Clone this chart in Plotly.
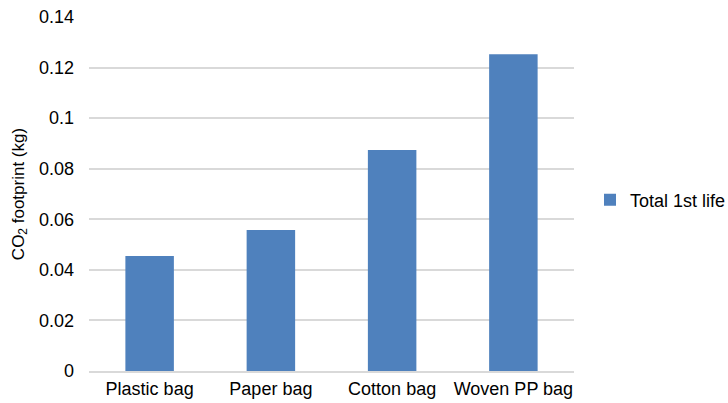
import plotly.graph_objects as go

categories = ["Plastic bag", "Paper bag", "Cotton bag", "Woven PP bag"]
values = [0.0455, 0.0558, 0.0874, 0.1253]
series_name = "Total 1st life"
y_ticks = [0, 0.02, 0.04, 0.06, 0.08, 0.1, 0.12, 0.14]
y_tick_labels = ["0", "0.02", "0.04", "0.06", "0.08", "0.1", "0.12", "0.14"]

FONT = "Liberation Sans, Arial, sans-serif"

fig = go.Figure()
fig.add_trace(go.Bar(
    x=categories, y=values, name=series_name,
    marker=dict(color="#4f81bd", line=dict(width=0)),
    showlegend=True,
))

fig.update_layout(
    width=728, height=403,
    margin=dict(l=89, r=154, t=17, b=32, autoexpand=False),
    paper_bgcolor="white", plot_bgcolor="white",
    font=dict(family=FONT, size=18, color="#000000"),
    bargap=0.6,
    showlegend=True,
    legend=dict(x=1.033, y=0.483, xanchor="left", yanchor="middle",
                font=dict(size=18), itemwidth=30, bgcolor="rgba(0,0,0,0)"),
    xaxis=dict(showgrid=False, showline=True, linecolor="#d9d9d9", linewidth=2,
               ticks="", tickfont=dict(size=18), automargin=False),
    yaxis=dict(range=[0, 0.14], tickvals=y_ticks, ticktext=y_tick_labels,
               showgrid=True, gridcolor="#d9d9d9", gridwidth=2,
               zeroline=False, showline=False, ticks="", automargin=False,
               tickfont=dict(size=18), ticklabelstandoff=14,
               title=dict(text="CO<sub>2</sub> footprint (kg)", font=dict(size=17), standoff=10)),
)

fig.write_html("out.html", config={"displayModeBar": False},
               post_script="document.body.style.margin='0';")
